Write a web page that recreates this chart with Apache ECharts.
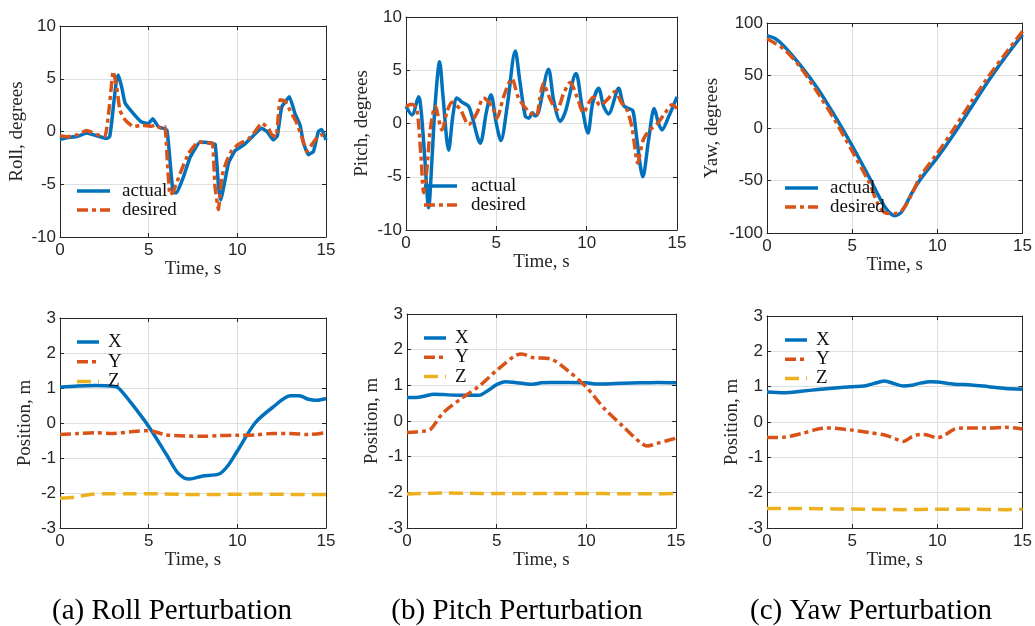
<!DOCTYPE html>
<html>
<head>
<meta charset="utf-8">
<script src="https://cdn.jsdelivr.net/npm/echarts@6/dist/echarts.min.js"></script>
<style>
  html, body { margin: 0; padding: 0; background: #ffffff; }
  #chart { width: 1035px; height: 626px; }
</style>
</head>
<body>
<div id="chart"></div>
<script>
// ---- Data: [time (s), value] pairs per trace ----
const timeTicks = [0, 5, 10, 15];
const angleTicksSmall = [-10, -5, 0, 5, 10];
const angleTicksYaw = [-100, -50, 0, 50, 100];
const positionTicks = [-3, -2, -1, 0, 1, 2, 3];

// Roll perturbation: roll angle (degrees)
const rollActual = [[0,-0.75],[0.38,-0.6],[1.0,-0.45],[1.5,-0.15],[2.07,-0.4],[2.63,-0.65],[2.8,-0.5],[2.91,0.8],[3.05,3.0],[3.2,5.0],[3.29,5.35],[3.48,4.2],[3.67,2.7],[4.14,1.7],[4.6,0.9],[4.98,0.75],[5.23,1.2],[5.55,0.45],[6.02,0.15],[6.2,-2.7],[6.39,-5.8],[6.58,-5.8],[6.96,-4.3],[7.35,-2.4],[7.9,-1.0],[8.5,-1.1],[8.75,-1.2],[8.93,-5.0],[9.06,-6.5],[9.5,-3.0],[9.88,-1.8],[10.34,-1.3],[10.9,-0.4],[11.37,0.3],[11.67,0.0],[12.03,-0.8],[12.26,-0.4],[12.5,2.3],[12.94,3.3],[13.25,1.7],[13.54,0.6],[13.73,-1.1],[14.0,-2.2],[14.29,-1.9],[14.57,0.0],[14.76,0.2],[15.0,-0.8]];
const rollDesired = [[0,-0.4],[0.4,-0.5],[1.0,-0.3],[1.5,0.1],[2.1,-0.3],[2.54,-0.45],[2.76,2.0],[3.0,5.7],[3.2,4.2],[3.38,2.0],[3.67,1.1],[4.14,0.45],[4.6,0.6],[5.17,0.5],[5.36,0.6],[5.73,0.3],[5.92,0.45],[6.05,-2.7],[6.2,-6.0],[6.39,-5.7],[6.77,-4.0],[7.24,-2.1],[7.8,-1.0],[8.43,-1.1],[8.6,-1.1],[8.74,-5.2],[8.93,-7.4],[9.12,-4.3],[9.4,-2.8],[9.69,-1.8],[10.07,-1.2],[10.63,-0.7],[11.0,0.0],[11.37,0.8],[11.75,0.3],[11.94,-0.3],[12.19,-0.5],[12.41,3.0],[12.69,2.9],[12.97,2.0],[13.35,0.8],[13.73,-1.0],[13.92,-1.9],[14.3,-1.0],[14.67,-0.3],[15.0,-0.4]];

// Pitch perturbation: pitch angle (degrees)
const pitchActual = [[0,1.6],[0.33,0.8],[0.7,2.5],[0.85,1.0],[1.05,-3.5],[1.25,-7.9],[1.45,-3.0],[1.6,1.5],[1.86,5.8],[2.05,2.5],[2.36,-2.5],[2.6,0.8],[2.82,2.4],[3.1,2.0],[3.47,1.6],[3.65,0.7],[4.11,-1.85],[4.44,1.0],[4.7,2.7],[5.0,0.0],[5.25,-1.6],[5.6,1.6],[6.05,6.8],[6.3,4.0],[6.6,0.7],[6.8,0.5],[7.0,1.0],[7.16,0.7],[7.34,1.1],[7.89,5.1],[8.17,2.2],[8.54,0.2],[8.82,1.1],[9.41,4.7],[9.74,1.6],[10.07,-0.9],[10.33,1.9],[10.66,3.3],[10.94,1.6],[11.21,0.9],[11.77,3.3],[12.04,1.7],[12.32,1.4],[12.56,1.2],[12.78,-1.5],[13.11,-5.0],[13.43,-1.5],[13.74,1.4],[13.98,0.0],[14.17,-0.6],[14.54,0.65],[15.0,2.5]];
const pitchDesired = [[0,1.6],[0.33,1.8],[0.6,1.3],[0.83,-3.1],[0.98,-6.5],[1.16,-4.2],[1.35,-0.5],[1.62,1.6],[1.99,-0.6],[2.27,1.1],[2.55,2.0],[3.01,1.3],[3.47,-0.1],[3.93,1.0],[4.29,2.4],[4.76,1.6],[5.03,0.5],[5.4,2.5],[5.86,4.2],[6.23,2.4],[6.8,1.1],[7.2,0.7],[7.4,2.3],[7.62,3.8],[7.89,2.6],[8.36,1.3],[8.72,2.8],[9.09,3.85],[9.46,2.5],[9.83,1.0],[10.1,1.9],[10.38,2.5],[10.75,1.7],[11.12,2.2],[11.58,3.0],[11.91,2.0],[12.22,1.3],[12.5,-0.3],[12.69,-2.5],[12.81,-3.7],[13.14,-1.5],[13.5,-0.6],[13.87,-0.1],[14.35,1.0],[14.72,1.75],[15.0,1.4]];

// Yaw perturbation: yaw angle (degrees)
const yawActual = [[0,88],[0.5,85],[1,78],[2,59],[3,37],[4,11],[5,-17],[6,-47],[6.5,-63],[7,-77],[7.5,-83.5],[7.9,-80],[8.5,-62],[9,-49],[10,-28],[11,-5],[12,20],[13,45],[14,68],[15,89]];
const yawDesired = [[0,85],[1,75],[2,57],[3,33],[4,7],[5,-22],[6,-52],[6.5,-72],[6.9,-80.5],[7.5,-81.5],[7.9,-79],[8.5,-63],[9,-46],[10,-24],[11,0],[12,25],[13,49],[14,71],[15,92]];

// Position during roll perturbation (m)
const rollPosX = [[0,1.03],[1,1.06],[2,1.07],[3,1.05],[3.3,1.0],[4,0.58],[5,-0.1],[6,-0.9],[6.6,-1.4],[7,-1.57],[7.3,-1.6],[8,-1.52],[9,-1.45],[9.5,-1.2],[10,-0.8],[11,0.0],[12,0.45],[13,0.78],[13.5,0.78],[14,0.68],[14.5,0.65],[15,0.7]];
const rollPosY = [[0,-0.33],[1,-0.3],[2,-0.28],[3,-0.3],[4,-0.25],[5,-0.22],[6,-0.34],[7,-0.37],[8,-0.38],[9,-0.36],[10,-0.35],[11,-0.34],[12,-0.3],[13,-0.3],[14,-0.33],[15,-0.27]];
const rollPosZ = [[0,-2.15],[0.8,-2.12],[1.7,-2.04],[2.5,-2.02],[4,-2.02],[5,-2.02],[7,-2.04],[9,-2.04],[11,-2.03],[13,-2.04],[15,-2.04]];

// Position during pitch perturbation (m)
const pitchPosX = [[0,0.66],[0.5,0.66],[1,0.7],[1.5,0.75],[2,0.74],[3,0.72],[4,0.72],[4.5,0.85],[5,1.02],[5.5,1.1],[6,1.08],[6.5,1.05],[7,1.03],[7.5,1.07],[8,1.08],[9,1.08],[10,1.07],[10.5,1.04],[11,1.04],[12,1.06],[13,1.07],[14,1.08],[15,1.07]];
const pitchPosY = [[0,-0.32],[1,-0.28],[1.3,-0.24],[2,0.22],[3,0.62],[4,0.97],[5,1.42],[6,1.82],[6.4,1.88],[7,1.78],[8,1.74],[9,1.4],[10,0.95],[11,0.35],[12,-0.13],[13,-0.6],[13.4,-0.7],[14,-0.62],[15,-0.48]];
const pitchPosZ = [[0,-2.05],[2,-2.02],[4,-2.03],[6,-2.03],[8,-2.03],[10,-2.03],[12,-2.04],[14,-2.04],[15,-2.03]];

// Position during yaw perturbation (m)
const yawPosX = [[0,0.85],[1,0.83],[2,0.87],[3,0.92],[4,0.96],[5,1.0],[5.7,1.02],[6.5,1.12],[6.9,1.16],[7.5,1.08],[8,1.02],[8.5,1.04],[9,1.1],[9.6,1.14],[10,1.13],[11,1.07],[12,1.05],[13,1.0],[14,0.95],[15,0.93]];
const yawPosY = [[0,-0.44],[1,-0.43],[2,-0.33],[3,-0.2],[3.5,-0.17],[4,-0.18],[5,-0.23],[6,-0.3],[7,-0.38],[7.5,-0.47],[8,-0.55],[8.5,-0.42],[9,-0.35],[9.5,-0.38],[10,-0.45],[10.5,-0.35],[11,-0.2],[11.5,-0.17],[12,-0.17],[13,-0.17],[14,-0.15],[15,-0.2]];
const yawPosZ = [[0,-2.45],[2,-2.45],[4,-2.46],[6,-2.47],[8,-2.48],[10,-2.47],[12,-2.47],[14,-2.48],[15,-2.47]];

const captions = ['(a) Roll Perturbation', '(b) Pitch Perturbation', '(c) Yaw Perturbation'];

// ---- Styling ----
const BLUE = '#0072BD', ORANGE = '#D95319', YELLOW = '#EDB120';
const AXIS = '#262626', GRIDLINE = '#dfdfdf';
const SANS = '"Liberation Sans", Arial, sans-serif';
const SERIF = '"Liberation Serif", "Times New Roman", serif';
const LW = 3.5;
const DASHDOT = [11, 4, 4, 4];
const DASHED = [14, 7];

const traceStyle = {
  solid:   { color: BLUE,   type: 'solid' },
  dashdot: { color: ORANGE, type: DASHDOT },
  dashed:  { color: YELLOW, type: DASHED }
};

// panel layout (plot-area rectangles), axis setup, traces and legend placement
const panels = [
  { rect: [60, 26, 266, 211], yName: 'Roll, degrees', ticks: angleTicksSmall, smooth: 0.12,
    traces: [['actual', rollActual, 'solid'], ['desired', rollDesired, 'dashdot']],
    legend: { x: 77, y: 191, gap: 19, len: 33, tx: 122 }, nameX: 17 },
  { rect: [406, 17, 271, 213], yName: 'Pitch, degrees', ticks: angleTicksSmall, smooth: 0.3,
    traces: [['actual', pitchActual, 'solid'], ['desired', pitchDesired, 'dashdot']],
    legend: { x: 424, y: 186, gap: 19, len: 33, tx: 471 }, nameX: 362 },
  { rect: [767, 23, 258, 210], yName: 'Yaw, degrees', ticks: angleTicksYaw, smooth: 0.3,
    traces: [['actual', yawActual, 'solid'], ['desired', yawDesired, 'dashdot']],
    legend: { x: 785, y: 188, gap: 19, len: 33, tx: 830 }, nameX: 712 },
  { rect: [60, 318, 266, 210], yName: 'Position, m', ticks: positionTicks, smooth: 0.3,
    traces: [['X', rollPosX, 'solid'], ['Y', rollPosY, 'dashdot'], ['Z', rollPosZ, 'dashed']],
    legend: { x: 77, y: 342, gap: 19.7, len: 22, tx: 108 }, nameX: 25 },
  { rect: [407, 314, 269, 214], yName: 'Position, m', ticks: positionTicks, smooth: 0.3,
    traces: [['X', pitchPosX, 'solid'], ['Y', pitchPosY, 'dashdot'], ['Z', pitchPosZ, 'dashed']],
    legend: { x: 424, y: 338, gap: 19.3, len: 22, tx: 455 }, nameX: 372 },
  { rect: [767, 316, 258, 212], yName: 'Position, m', ticks: positionTicks, smooth: 0.3,
    traces: [['X', yawPosX, 'solid'], ['Y', yawPosY, 'dashdot'], ['Z', yawPosZ, 'dashed']],
    legend: { x: 785, y: 340, gap: 19.2, len: 22, tx: 816 }, nameX: 732 }
];

const grid = [], xAxis = [], yAxis = [], series = [], graphic = [];

panels.forEach((p, i) => {
  const [left, top, width, height] = p.rect;
  grid.push({ left, top, width, height, containLabel: false, show: false });

  const tmin = timeTicks[0], tmax = timeTicks[timeTicks.length - 1];
  const ymin = p.ticks[0], ymax = p.ticks[p.ticks.length - 1];
  const yStep = p.ticks[1] - p.ticks[0];
  const tStep = timeTicks[1] - timeTicks[0];
  const axisLine = { show: true, onZero: false, lineStyle: { color: AXIS, width: 1 } };
  const tick = { show: true, inside: true, length: 4, lineStyle: { color: AXIS, width: 1 } };

  xAxis.push({
    type: 'value', gridIndex: i, position: 'bottom', min: tmin, max: tmax, interval: tStep,
    axisLine, axisTick: tick,
    axisLabel: { color: AXIS, fontSize: 17, fontFamily: SANS, margin: 5 },
    splitLine: { show: true, lineStyle: { color: GRIDLINE, width: 1 } },
    name: 'Time, s', nameLocation: 'middle', nameGap: 22,
    nameTextStyle: { color: AXIS, fontSize: 19, fontFamily: SERIF }
  });
  xAxis.push({
    type: 'value', gridIndex: i, position: 'top', min: tmin, max: tmax, interval: tStep,
    axisLine, axisTick: tick, axisLabel: { show: false }, splitLine: { show: false }
  });
  yAxis.push({
    type: 'value', gridIndex: i, position: 'left', min: ymin, max: ymax, interval: yStep,
    axisLine, axisTick: tick,
    axisLabel: { color: AXIS, fontSize: 17, fontFamily: SANS, margin: 4 },
    splitLine: { show: true, lineStyle: { color: GRIDLINE, width: 1 } },
    name: p.yName, nameLocation: 'middle', nameRotate: 90, nameGap: left - p.nameX - 10,
    nameTextStyle: { color: AXIS, fontSize: 19, fontFamily: SERIF }
  });
  yAxis.push({
    type: 'value', gridIndex: i, position: 'right', min: ymin, max: ymax, interval: yStep,
    axisLine, axisTick: tick, axisLabel: { show: false }, splitLine: { show: false }
  });

  p.traces.forEach(([name, data, kind], k) => {
    const st = traceStyle[kind];
    series.push({
      type: 'line', name, data, xAxisIndex: 2 * i, yAxisIndex: 2 * i,
      symbol: 'none', showSymbol: false, smooth: p.smooth,
      color: st.color, z: 2 + k, clip: true,
      lineStyle: { color: st.color, width: LW, type: st.type, cap: 'butt', join: 'round' }
    });

    // legend row: line sample + label
    const ly = p.legend.y + k * p.legend.gap;
    graphic.push({
      type: 'line', silent: true, z: 10,
      shape: { x1: p.legend.x, y1: ly, x2: p.legend.x + p.legend.len, y2: ly },
      style: { stroke: st.color, lineWidth: LW, lineDash: kind === 'solid' ? null : st.type }
    });
    graphic.push({
      type: 'text', silent: true, z: 10, x: p.legend.tx, y: ly,
      style: { text: name, fill: '#111111', fontSize: 19, fontFamily: SERIF,
               align: 'left', verticalAlign: 'middle' }
    });
  });
});

// sub-figure captions, centred under each column
const captionCenters = [172, 517, 871];
captions.forEach((c, i) => {
  graphic.push({
    type: 'text', silent: true, x: captionCenters[i], y: 611,
    style: { text: c, fill: '#000000', fontSize: 29, fontFamily: SERIF,
             align: 'center', verticalAlign: 'middle' }
  });
});

const chart = echarts.init(document.getElementById('chart'), null, { renderer: 'canvas' });
chart.setOption({
  backgroundColor: '#ffffff',
  animation: false,
  grid, xAxis, yAxis, series, graphic
});
</script>
</body>
</html>
